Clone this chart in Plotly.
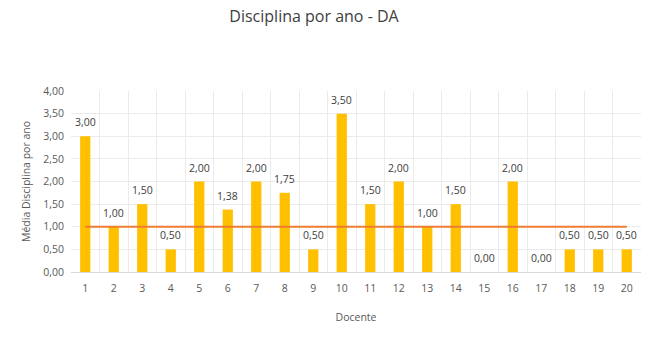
import plotly.graph_objects as go

docentes = list(range(1, 21))
media = [3.00, 1.00, 1.50, 0.50, 2.00, 1.38, 2.00, 1.75, 0.50, 3.50,
         1.50, 2.00, 1.00, 1.50, 0.00, 2.00, 0.00, 0.50, 0.50, 0.50]
referencia = [1.0] * len(docentes)

labels = [f"{v:.2f}".replace(".", ",") for v in media]

fig = go.Figure()
fig.add_trace(go.Bar(
    x=docentes, y=media, width=0.36,
    marker=dict(color="#FFC000", line=dict(width=0)),
))
fig.add_trace(go.Scatter(
    x=docentes, y=referencia, mode="lines",
    line=dict(color="#ED7D31", width=2.2),
))

# value labels sitting above each bar
for d, v, lab in zip(docentes, media, labels):
    fig.add_annotation(x=d, y=v, text=lab, showarrow=False,
                       yanchor="bottom", yshift=5,
                       font=dict(size=10.5, color="#404040"))

fig.update_layout(
    width=654, height=344,
    margin=dict(l=71, r=13, t=91, b=72),
    paper_bgcolor="white", plot_bgcolor="white",
    showlegend=False,
    separators=",.",
    font=dict(family="Open Sans, sans-serif", color="#595959", size=10.5),
    title=dict(text="Disciplina por ano - DA", x=314 / 654, xanchor="center",
               y=1 - 16 / 344, yanchor="middle",
               font=dict(size=16, color="#404040")),
    xaxis=dict(
        range=[0.5, 20.5], tickmode="array", tickvals=docentes,
        ticktext=[str(d) for d in docentes],
        showgrid=False, zeroline=False, showline=True,
        linecolor="#D9D9D9", linewidth=1,
        ticks="outside", ticklen=6, tickcolor="rgba(0,0,0,0)",
        minor=dict(tick0=0.5, dtick=1, showgrid=True, gridcolor="#EBEBEB", gridwidth=1),
        title=dict(text="Docente", font=dict(size=10.5, color="#595959"), standoff=20),
        tickfont=dict(size=10.5, color="#595959"),
    ),
    yaxis=dict(
        range=[0, 4], dtick=0.5, tickformat=".2f",
        showgrid=True, gridcolor="#EBEBEB", gridwidth=1,
        zeroline=False, showline=False,
        ticks="outside", ticklen=4, tickcolor="rgba(0,0,0,0)",
        title=dict(text="Média Disciplina por ano", font=dict(size=10.5, color="#595959"), standoff=10),
        tickfont=dict(size=10.5, color="#595959"),
    ),
)

fig.write_html("out.html")
